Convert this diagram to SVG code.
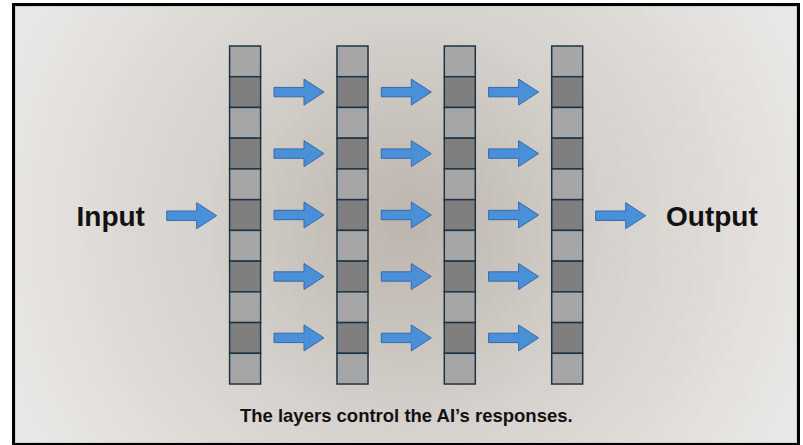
<svg xmlns="http://www.w3.org/2000/svg" xmlns:xlink="http://www.w3.org/1999/xlink" width="803" height="445" viewBox="0 0 803 445">
  <defs>
    <radialGradient id="bg" gradientUnits="userSpaceOnUse" cx="406" cy="224" r="450">
      <stop offset="0" stop-color="#bcb5ae"/>
      <stop offset="0.22" stop-color="#c8c2bc"/>
      <stop offset="0.45" stop-color="#d5d1cc"/>
      <stop offset="0.87" stop-color="#e6e4e1"/>
      <stop offset="1" stop-color="#ebe9e7"/>
    </radialGradient>
    <path id="arr" d="M0,-4.7 H30 V-13 L50,0 L30,13 V4.7 H0 Z"/>
    <g id="col">
      <rect class="l" x="0" y="0" width="31" height="30.73"/>
      <rect class="d" x="0" y="30.73" width="31" height="30.73"/>
      <rect class="l" x="0" y="61.46" width="31" height="30.73"/>
      <rect class="d" x="0" y="92.19" width="31" height="30.73"/>
      <rect class="l" x="0" y="122.92" width="31" height="30.73"/>
      <rect class="d" x="0" y="153.65" width="31" height="30.73"/>
      <rect class="l" x="0" y="184.38" width="31" height="30.73"/>
      <rect class="d" x="0" y="215.11" width="31" height="30.73"/>
      <rect class="l" x="0" y="245.84" width="31" height="30.73"/>
      <rect class="d" x="0" y="276.57" width="31" height="30.73"/>
      <rect class="l" x="0" y="307.3" width="31" height="30.73"/>
    </g>
  </defs>
  <style>
    .l { fill: #a6a6a6; stroke: #1e3444; stroke-width: 1.5; }
    .d { fill: #7f7f7f; stroke: #1e3444; stroke-width: 1.5; }
    .a { fill: #4a90d9; stroke: #3669a8; stroke-width: 1; }
    .big { font-family: "Liberation Sans", Arial, sans-serif; font-weight: bold; font-size: 28px; fill: #111; }
    .cap { font-family: "Liberation Sans", Arial, sans-serif; font-weight: bold; font-size: 18.5px; fill: #111; }
  </style>
  <rect x="0" y="0" width="803" height="445" fill="#ffffff"/>
  <rect x="13.5" y="4.5" width="785" height="440" fill="url(#bg)" stroke="#000" stroke-width="3"/>
  <rect x="15.5" y="6.5" width="781" height="436" fill="none" stroke="#cfcfcf" stroke-width="1"/>

  <g id="layer1"><use xlink:href="#col" href="#col" transform="translate(229.6,46)"/></g>
  <g id="layer2"><use xlink:href="#col" href="#col" transform="translate(337,46)"/></g>
  <g id="layer3"><use xlink:href="#col" href="#col" transform="translate(444.3,46)"/></g>
  <g id="layer4"><use xlink:href="#col" href="#col" transform="translate(551.7,46)"/></g>

  <g id="input"><text class="big" x="76.5" y="226">Input</text></g>
  <g id="output"><text class="big" x="666" y="226">Output</text></g>

  <g id="connectors" class="a">
    <use href="#arr" transform="translate(166.7,215.7)"/>
    <use href="#arr" transform="translate(595.7,215.7)"/>

    <use href="#arr" transform="translate(274,92.1)"/>
    <use href="#arr" transform="translate(274,153.6)"/>
    <use href="#arr" transform="translate(274,215)"/>
    <use href="#arr" transform="translate(274,276.5)"/>
    <use href="#arr" transform="translate(274,337.9)"/>

    <use href="#arr" transform="translate(381.3,92.1)"/>
    <use href="#arr" transform="translate(381.3,153.6)"/>
    <use href="#arr" transform="translate(381.3,215)"/>
    <use href="#arr" transform="translate(381.3,276.5)"/>
    <use href="#arr" transform="translate(381.3,337.9)"/>

    <use href="#arr" transform="translate(488.6,92.1)"/>
    <use href="#arr" transform="translate(488.6,153.6)"/>
    <use href="#arr" transform="translate(488.6,215)"/>
    <use href="#arr" transform="translate(488.6,276.5)"/>
    <use href="#arr" transform="translate(488.6,337.9)"/>
  </g>

  <g id="caption"><text class="cap" x="406.3" y="421.5" text-anchor="middle">The layers control the AI’s responses.</text></g>
</svg>
